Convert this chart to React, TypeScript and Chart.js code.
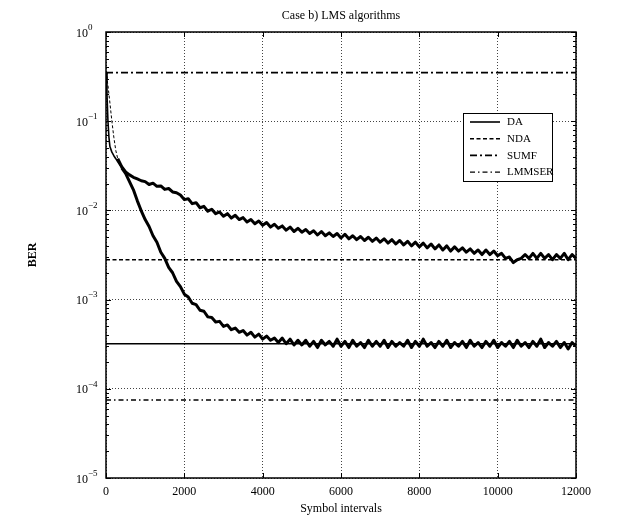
import React, { useEffect, useRef } from 'react';
import { Chart, registerables } from 'chart.js';

Chart.register(...registerables);

// ---------- data ----------
const titleText = 'Case b) LMS algorithms';
const xTitle = 'Symbol intervals';
const yTitle = 'BER';

const xTickValues = [0, 2000, 4000, 6000, 8000, 10000, 12000];
const yDecades = [1, 0.1, 0.01, 0.001, 0.0001, 0.00001];
const yExponents = ['0', '\u22121', '\u22122', '\u22123', '\u22124', '\u22125'];

const legendLabels = ['DA', 'NDA', 'SUMF', 'LMMSER'];
const levelDA = 0.00032;
const levelNDA = 0.0028;
const levelSUMF = 0.35;
const levelLMMSER = 0.000075;

const curveX = [
  0, 25, 50, 75, 100, 150, 200, 250, 300, 400, 500, 600, 700, 800, 900,
  1000, 1100, 1200, 1300, 1400, 1500, 1600, 1700, 1800, 1900,
  2000, 2100, 2200, 2300, 2400, 2500, 2600, 2700, 2800, 2900,
  3000, 3100, 3200, 3300, 3400, 3500, 3600, 3700, 3800, 3900,
  4000, 4100, 4200, 4300, 4400, 4500, 4600, 4700, 4800, 4900,
  5000, 5100, 5200, 5300, 5400, 5500, 5600, 5700, 5800, 5900,
  6000, 6100, 6200, 6300, 6400, 6500, 6600, 6700, 6800, 6900,
  7000, 7100, 7200, 7300, 7400, 7500, 7600, 7700, 7800, 7900,
  8000, 8100, 8200, 8300, 8400, 8500, 8600, 8700, 8800, 8900,
  9000, 9100, 9200, 9300, 9400, 9500, 9600, 9700, 9800, 9900,
  10000, 10100, 10200, 10300, 10400, 10500, 10600, 10700, 10800, 10900,
  11000, 11100, 11200, 11300, 11400, 11500, 11600, 11700, 11800, 11900,
  12000,
];

const daCurve = [
  0.35, 0.2, 0.1, 0.066, 0.052, 0.045, 0.041, 0.038, 0.035, 0.03, 0.026, 0.021, 0.017, 0.0128, 0.0099,
  0.0079, 0.0066, 0.0052, 0.0044, 0.0034, 0.0029, 0.0023, 0.002, 0.0016, 0.0014,
  0.00115, 0.00107, 0.00091, 0.00088, 0.00076, 0.00074, 0.00064, 0.00063, 0.00056, 0.00057,
  0.0005, 0.00052, 0.00046, 0.00048, 0.00043, 0.00045, 0.0004, 0.00043, 0.00038, 0.00041,
  0.00036, 0.00039, 0.00035, 0.00037, 0.00033, 0.00037, 0.00032, 0.00036, 0.00031, 0.00035,
  0.00031, 0.00035, 0.0003, 0.00034, 0.00029, 0.00035, 0.00031, 0.00034, 0.0003, 0.00036,
  0.0003, 0.00034, 0.00029, 0.00035, 0.0003, 0.00033, 0.00029, 0.00035, 0.0003, 0.00034,
  0.0003, 0.00035, 0.00029, 0.00034, 0.0003, 0.00033, 0.0003, 0.00035, 0.00029, 0.00034,
  0.0003, 0.00036, 0.0003, 0.00033, 0.00029, 0.00034, 0.0003, 0.00035, 0.00029, 0.00033,
  0.0003, 0.00034, 0.00029, 0.00035, 0.0003, 0.00033, 0.00029, 0.00034, 0.0003, 0.00035,
  0.00029, 0.00033, 0.0003, 0.00034, 0.00029, 0.00035, 0.0003, 0.00033, 0.00029, 0.00034,
  0.0003, 0.00036, 0.00029, 0.00033, 0.0003, 0.00034, 0.00029, 0.00033, 0.00028, 0.00033,
  0.0003,
];

const ndaCurve = [
  0.35, 0.3, 0.25, 0.2, 0.16, 0.1, 0.066, 0.047, 0.038, 0.031, 0.027, 0.025, 0.0235, 0.0225, 0.0215,
  0.021, 0.0195, 0.0202, 0.0186, 0.0188, 0.0172, 0.0176, 0.0161, 0.0158, 0.0149,
  0.0132, 0.0135, 0.0119, 0.0122, 0.0107, 0.0111, 0.0098, 0.0103, 0.0092, 0.0096,
  0.0086, 0.0092, 0.0082, 0.0088, 0.0079, 0.0083, 0.0074, 0.0079, 0.0071, 0.0076,
  0.0068, 0.0073, 0.0065, 0.007, 0.0063, 0.0067, 0.006, 0.0065, 0.0058, 0.0063,
  0.0057, 0.0061, 0.0055, 0.0059, 0.0053, 0.0058, 0.0052, 0.0056, 0.0051, 0.0055,
  0.0049, 0.0054, 0.0048, 0.0052, 0.0047, 0.0051, 0.0046, 0.005, 0.0045, 0.0049,
  0.0044, 0.0048, 0.0043, 0.0047, 0.0042, 0.0046, 0.0041, 0.0045, 0.004, 0.0044,
  0.0039, 0.0043, 0.0038, 0.0042, 0.0037, 0.0041, 0.0036, 0.004, 0.0035, 0.0039,
  0.0035, 0.0038, 0.0034, 0.0037, 0.0033, 0.0036, 0.0032, 0.0036, 0.0032, 0.0035,
  0.0031, 0.0033, 0.0029, 0.003, 0.0026, 0.0028, 0.0029, 0.0032, 0.0029, 0.0033,
  0.0029, 0.0033, 0.0029, 0.0032, 0.0028, 0.0032, 0.0029, 0.0033, 0.0028, 0.0032,
  0.0029,
];

// ---------- helpers ----------
const FONT = '"Liberation Serif", "Times New Roman", serif';
const toPoints = (xs: number[], ys: number[]) => xs.map((x, i) => ({ x, y: ys[i] }));
const level = (v: number) => [
  { x: xTickValues[0], y: v },
  { x: xTickValues[xTickValues.length - 1], y: v },
];

const levelStyles: Record<string, { dash: number[]; width: number }> = {
  DA: { dash: [], width: 1.6 },
  NDA: { dash: [4, 2.5], width: 1.6 },
  SUMF: { dash: [7, 3, 2, 3], width: 1.6 },
  LMMSER: { dash: [5, 3, 1.5, 3], width: 1.4 },
};

const decorPlugin = {
  id: 'decor',
  afterDraw(chart: any) {
    const { ctx, chartArea } = chart;
    const { left, right, top, bottom } = chartArea;
    const xs = chart.scales.x;
    const ys = chart.scales.y;
    ctx.save();
    ctx.strokeStyle = '#000';
    ctx.fillStyle = '#000';

    // ticks (inward)
    ctx.lineWidth = 1;
    ctx.beginPath();
    xTickValues.forEach((v) => {
      const px = Math.round(xs.getPixelForValue(v)) + 0.5;
      ctx.moveTo(px, top);
      ctx.lineTo(px, top + 5);
      ctx.moveTo(px, bottom);
      ctx.lineTo(px, bottom - 5);
    });
    for (let k = -5; k <= 0; k++) {
      for (let m = 1; m <= 9; m++) {
        const v = m * Math.pow(10, k);
        if (v > 1.0000001) continue;
        const py = Math.round(ys.getPixelForValue(v)) + 0.5;
        const len = m === 1 ? 5 : 3;
        ctx.moveTo(left, py);
        ctx.lineTo(left + len, py);
        ctx.moveTo(right, py);
        ctx.lineTo(right - len, py);
      }
    }
    ctx.stroke();

    // frame
    ctx.lineWidth = 1.5;
    ctx.strokeRect(left, top, right - left, bottom - top);

    // x tick labels
    ctx.font = `12px ${FONT}`;
    ctx.textAlign = 'center';
    ctx.textBaseline = 'middle';
    xTickValues.forEach((v) => {
      ctx.fillText(String(v), xs.getPixelForValue(v), bottom + 14);
    });

    // y tick labels 10^k
    yDecades.forEach((v, i) => {
      const py = ys.getPixelForValue(v);
      ctx.textAlign = 'left';
      ctx.font = `12px ${FONT}`;
      ctx.fillText('10', left - 30, py + 1.5);
      ctx.font = `9px ${FONT}`;
      ctx.fillText(yExponents[i], left - 18, py - 4.5);
    });

    // titles
    ctx.textAlign = 'center';
    ctx.font = `12px ${FONT}`;
    ctx.fillText(titleText, (left + right) / 2, top - 16);
    ctx.fillText(xTitle, (left + right) / 2, bottom + 31);
    ctx.save();
    ctx.translate(33, (top + bottom) / 2);
    ctx.rotate(-Math.PI / 2);
    ctx.font = `bold 12px ${FONT}`;
    ctx.fillText(yTitle, 0, 0);
    ctx.restore();

    // legend
    const bx = right - 113;
    const by = top + 81;
    const bw = 89;
    const bh = 68;
    ctx.fillStyle = '#fff';
    ctx.fillRect(bx, by, bw, bh);
    ctx.strokeStyle = '#000';
    ctx.lineWidth = 1;
    ctx.strokeRect(bx + 0.5, by + 0.5, bw, bh);
    ctx.fillStyle = '#000';
    ctx.font = `11px ${FONT}`;
    ctx.textAlign = 'left';
    legendLabels.forEach((lab, i) => {
      const ly = by + 9 + i * 16.7;
      const st = levelStyles[lab];
      ctx.save();
      ctx.lineWidth = st.width;
      ctx.setLineDash(st.dash);
      ctx.beginPath();
      ctx.moveTo(bx + 7, ly);
      ctx.lineTo(bx + 37, ly);
      ctx.stroke();
      ctx.restore();
      ctx.fillText(lab, bx + 44, ly + 0.5);
    });

    ctx.restore();
  },
};

export default function App() {
  const ref = useRef<HTMLCanvasElement>(null);

  useEffect(() => {
    document.body.style.margin = '0';
    const canvas = ref.current;
    if (!canvas) return;

    const levelDataset = (label: string, v: number) => ({
      label,
      data: level(v),
      borderColor: '#000',
      borderWidth: levelStyles[label].width,
      borderDash: levelStyles[label].dash,
      pointRadius: 0,
      fill: false,
    });

    const chart = new Chart(canvas, {
      type: 'line',
      data: {
        datasets: [
          levelDataset('SUMF', levelSUMF),
          levelDataset('NDA', levelNDA),
          levelDataset('DA', levelDA),
          levelDataset('LMMSER', levelLMMSER),
          {
            label: 'NDA LMS',
            data: toPoints(curveX, ndaCurve),
            borderColor: '#000',
            borderWidth: 3,
            borderJoinStyle: 'round',
            pointRadius: 0,
            fill: false,
            segment: {
              borderDash: (c: any) => (c.p0.parsed.x < 300 ? [3, 2] : []),
              borderWidth: (c: any) => (c.p0.parsed.x < 300 ? 1 : 3),
            },
          },
          {
            label: 'DA LMS',
            data: toPoints(curveX, daCurve),
            borderColor: '#000',
            borderWidth: 3,
            borderJoinStyle: 'round',
            pointRadius: 0,
            fill: false,
            segment: {
              borderWidth: (c: any) => (c.p0.parsed.x < 400 ? 1.6 : 3),
            },
          },
        ],
      },
      options: {
        responsive: false,
        animation: false,
        devicePixelRatio: 1,
        layout: { padding: { left: 106, right: 42, top: 32, bottom: 40 } },
        plugins: {
          legend: { display: false },
          title: { display: false },
          tooltip: { enabled: false },
        },
        elements: { line: { tension: 0 } },
        scales: {
          x: {
            type: 'linear',
            min: 0,
            max: 12000,
            ticks: { display: false, stepSize: 2000 },
            grid: { color: '#444', lineWidth: 1, drawTicks: false },
            border: { display: false, dash: [1, 2] },
            afterFit: (s: any) => {
              s.height = 0;
            },
          },
          y: {
            type: 'logarithmic',
            min: 0.00001,
            max: 1,
            ticks: { display: false },
            grid: { color: '#444', lineWidth: 1, drawTicks: false },
            border: { display: false, dash: [1, 2] },
            afterBuildTicks: (s: any) => {
              s.ticks = yDecades.map((v) => ({ value: v }));
            },
            afterFit: (s: any) => {
              s.width = 0;
            },
          },
        },
      },
      plugins: [decorPlugin],
    } as any);

    return () => chart.destroy();
  }, []);

  return (
    <canvas
      ref={ref}
      width={618}
      height={518}
      style={{ display: 'block', width: 618, height: 518 }}
    />
  );
}
